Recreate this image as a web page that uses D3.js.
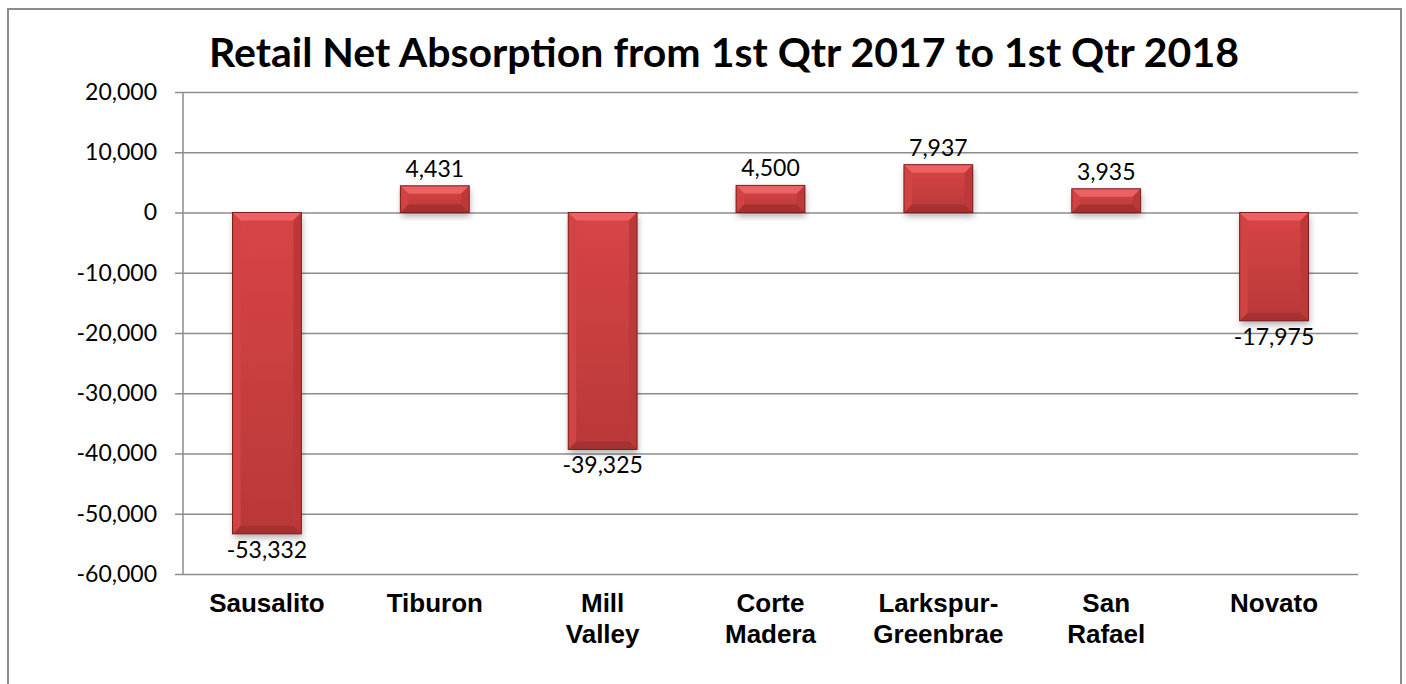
<!DOCTYPE html>
<html>
<head>
<meta charset="utf-8">
<script src="https://cdn.jsdelivr.net/npm/d3@7"></script>
<style>
  body { margin: 0; background: #fff; }
  svg { display: block; }
</style>
</head>
<body>
<svg width="1406" height="684"></svg>
<script>
// chart values
const categories = ['Sausalito', 'Tiburon', 'Mill Valley', 'Corte Madera', 'Larkspur- Greenbrae', 'San Rafael', 'Novato'];
const absorption = [-53332, 4431, -39325, 4500, 7937, 3935, -17975];
const yTicks = [20000, 10000, 0, -10000, -20000, -30000, -40000, -50000, -60000];
const chartTitle = 'Retail Net Absorption from 1st Qtr 2017 to 1st Qtr 2018';

const data = categories.map((c, i) => ({ category: c, value: absorption[i] }));

const svg = d3.select('svg');
const width = +svg.attr('width');
const height = +svg.attr('height');

const margin = { top: 92, right: 48, bottom: 110, left: 183 };
const innerWidth = width - margin.left - margin.right;
const innerHeight = 574 - margin.top;

// excel style: plain hyphen for negatives
const fmt = d => d3.format(',')(d).replace('\u2212', '-');
const numFont = 'Lato, sans-serif';

// outer frame (bottom edge is below the picture)
svg.append('path')
  .attr('d', `M8,${height}V9H1401V${height}`)
  .attr('fill', 'none')
  .attr('stroke', '#8c8c8c')
  .attr('stroke-width', 2);

svg.append('text')
  .attr('x', 724).attr('y', 67)
  .attr('text-anchor', 'middle')
  .attr('font-family', numFont)
  .attr('font-weight', 'bold')
  .attr('font-size', 41)
  .attr('fill', '#000')
  .text(chartTitle);

const defs = svg.append('defs');
const grad = defs.append('linearGradient').attr('id', 'face')
  .attr('x1', 0).attr('y1', 0).attr('x2', 0).attr('y2', 1);
grad.append('stop').attr('offset', '0%').attr('stop-color', '#d84545');
grad.append('stop').attr('offset', '100%').attr('stop-color', '#b93838');

const shadow = defs.append('filter').attr('id', 'shadow')
  .attr('x', '-30%').attr('y', '-30%').attr('width', '160%').attr('height', '160%');
shadow.append('feDropShadow')
  .attr('dx', 1).attr('dy', 4).attr('stdDeviation', 3)
  .attr('flood-color', '#000').attr('flood-opacity', 0.3);

const xScale = d3.scaleBand()
  .domain(categories)
  .range([0, innerWidth])
  .paddingInner(0.59)
  .paddingOuter(0.295);

const yScale = d3.scaleLinear()
  .domain([-60000, 20000])
  .range([innerHeight, 0]);

const g = svg.append('g')
  .attr('transform', `translate(${margin.left}, ${margin.top})`);

// gridlines + y axis
const yAxis = d3.axisLeft(yScale)
  .tickValues(yTicks)
  .tickSize(-innerWidth)
  .tickPadding(26)
  .tickFormat(fmt);

const yAxisG = g.append('g').call(yAxis)
  .attr('font-family', numFont)
  .attr('font-size', 23);
yAxisG.select('.domain').remove();
yAxisG.selectAll('.tick line')
  .attr('x1', -8)
  .attr('stroke', '#8c8c8c')
  .attr('stroke-width', 1.5);
yAxisG.selectAll('.tick text')
  .attr('fill', '#000');

g.append('line')
  .attr('x1', 0).attr('x2', 0)
  .attr('y1', 0).attr('y2', innerHeight)
  .attr('stroke', '#8c8c8c')
  .attr('stroke-width', 1.5);

// bars with bevel
const bars = g.selectAll('g.bar').data(data)
  .enter().append('g')
  .attr('class', 'bar');

bars.each(function (d) {
  const el = d3.select(this);
  const x0 = xScale(d.category);
  const x1 = x0 + xScale.bandwidth();
  const yT = yScale(Math.max(0, d.value));
  const yB = yScale(Math.min(0, d.value));
  const b = Math.min(8, (yB - yT) / 3);

  el.append('rect')
    .attr('x', x0).attr('y', yT)
    .attr('width', x1 - x0).attr('height', yB - yT)
    .attr('fill', 'url(#face)')
    .attr('filter', 'url(#shadow)');

  const poly = (pts, fill) => el.append('path')
    .attr('d', 'M' + pts.map(p => p.join(',')).join('L') + 'Z')
    .attr('fill', fill);

  poly([[x0, yT], [x1, yT], [x1 - b, yT + b], [x0 + b, yT + b]], '#ec6262');
  poly([[x0, yB], [x1, yB], [x1 - b, yB - b], [x0 + b, yB - b]], '#a63131');
  poly([[x0, yT], [x0 + b, yT + b], [x0 + b, yB - b], [x0, yB]], '#d24444');
  poly([[x1, yT], [x1 - b, yT + b], [x1 - b, yB - b], [x1, yB]], '#bb3939');

  el.append('rect')
    .attr('x', x0).attr('y', yT)
    .attr('width', x1 - x0).attr('height', yB - yT)
    .attr('fill', 'none')
    .attr('stroke', '#7a1e1e')
    .attr('stroke-width', 1);
});

// value labels
g.selectAll('text.value').data(data)
  .enter().append('text')
  .attr('class', 'value')
  .attr('x', d => xScale(d.category) + xScale.bandwidth() / 2)
  .attr('y', d => d.value >= 0 ? yScale(d.value) - 9 : yScale(d.value) + 24)
  .attr('text-anchor', 'middle')
  .attr('font-family', numFont)
  .attr('font-size', 23)
  .attr('fill', '#000')
  .text(d => fmt(d.value));

// category labels
const catG = g.append('g')
  .attr('transform', `translate(0, ${innerHeight})`);

catG.selectAll('text').data(categories)
  .enter().append('text')
  .attr('x', d => xScale(d) + xScale.bandwidth() / 2)
  .attr('y', 38)
  .attr('text-anchor', 'middle')
  .attr('font-family', '"Liberation Sans", Arial, sans-serif')
  .attr('font-weight', 'bold')
  .attr('font-size', 26)
  .attr('fill', '#000')
  .each(function (d) {
    const words = d.split(' ');
    const t = d3.select(this);
    words.forEach((w, i) => {
      t.append('tspan')
        .attr('x', xScale(d) + xScale.bandwidth() / 2)
        .attr('dy', i === 0 ? 0 : 31)
        .text(w);
    });
  });
</script>
</body>
</html>
